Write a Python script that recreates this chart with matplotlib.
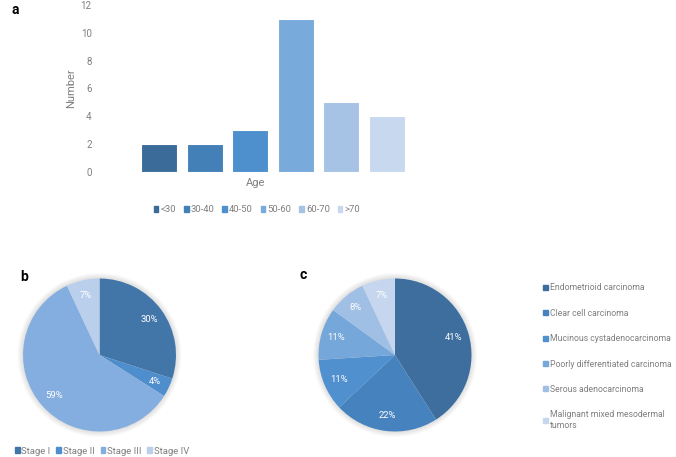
import matplotlib
matplotlib.use("Agg")
import matplotlib.pyplot as plt
from matplotlib.patches import Circle, Patch

plt.rcParams['font.family'] = ['Roboto', 'DejaVu Sans']

age_groups = ["<30", "30-40", "40-50", "50-60", "60-70", ">70"]
age_counts = [2, 2, 3, 11, 5, 4]
age_colors = ["#3b6b98", "#4480b8", "#4e8fcd", "#78aadc", "#a6c3e6", "#c7d8ef"]

stages = ["Stage I", "Stage II", "Stage III", "Stage IV"]
stage_pct = [30, 4, 59, 7]
stage_colors = ["#4376a8", "#4f8ecc", "#85aee0", "#bacfec"]

types = ["Endometrioid carcinoma", "Clear cell carcinoma", "Mucinous cystadenocarcinoma",
         "Poorly differentiated carcinoma", "Serous adenocarcinoma",
         "Malignant mixed mesodermal\ntumors"]
type_pct = [41, 22, 11, 11, 8, 7]
type_colors = ["#3d6e9d", "#4682bd", "#5090cf", "#76a7da", "#a0bfe5", "#c5d6ee"]

W, H = 676, 457
fig = plt.figure(figsize=(W/100, H/100), dpi=100)
gray = "#595959"
tgray = "#7f7f7f"

def px(x0, y0, x1, y1):
    return [x0/W, 1 - y1/H, (x1-x0)/W, (y1-y0)/H]

# Panel a
ax = fig.add_axes(px(100, 5, 412, 172))
x = range(len(age_groups))
ax.bar(x, age_counts, width=0.79, color=age_colors, edgecolor="white", linewidth=0.8)
ax.set_ylim(0, 12)
ax.set_yticks(range(0, 13, 2))
ax.set_xlim(-1.294, 5.548)
ax.set_xticks([])
for s in ax.spines.values():
    s.set_visible(False)
ax.tick_params(axis='y', length=0, labelsize=7, labelcolor=tgray, pad=6)
ax.set_ylabel("Number", fontsize=8, color=tgray, labelpad=3)
ax.set_xlabel("Age", fontsize=8, color=tgray, labelpad=4)
handles = [Patch(color=c, label=l) for c, l in zip(age_colors, age_groups)]
fig.legend(handles=handles, loc="center", bbox_to_anchor=(257/W, 1-210/H), ncol=6,
           frameon=False, fontsize=6.8, labelcolor=tgray, handlelength=0.5, handleheight=0.5,
           handletextpad=0.25, columnspacing=0.8)
fig.text(12/W, 1-10/H, "a", fontsize=10, fontweight="bold", va="center")

def draw_pie(cx, cy, r, vals, cols):
    a = fig.add_axes(px(cx-r*1.1, cy-r*1.1, cx+r*1.1, cy+r*1.1))
    for i in range(6):
        a.add_patch(Circle((0, 0.0), 1.0 + 0.012*(i+1), color="black", alpha=0.02, lw=0, zorder=0))
    wedges, texts, autotexts = a.pie(vals, colors=cols, startangle=90, counterclock=False,
                                     autopct=lambda p: f"{p:.0f}%", pctdistance=0.8,
                                     wedgeprops=dict(linewidth=0), radius=1.0,
                                     textprops=dict(color="white", fontsize=6.8))
    for w in wedges:
        w.set_zorder(2)
    for t in autotexts:
        t.set_zorder(3)
    a.set_xlim(-1.1, 1.1)
    a.set_ylim(-1.1, 1.1)
    a.set_aspect("equal")
    a.axis("off")
    return a

draw_pie(99.5, 355, 76.5, stage_pct, stage_colors)
draw_pie(395, 355, 76.5, type_pct, type_colors)

fig.text(20/W, 1-277/H, "b", fontsize=10, fontweight="bold", va="center")
fig.text(300/W, 1-275/H, "c", fontsize=10, fontweight="bold", va="center")

handles = [Patch(color=c, label=l) for c, l in zip(stage_colors, stages)]
fig.legend(handles=handles, loc="center", bbox_to_anchor=(102/W, 1-451/H), ncol=4,
           frameon=False, fontsize=6.8, labelcolor=tgray, handlelength=0.5, handleheight=0.5,
           handletextpad=0.2, columnspacing=0.6)

handles = [Patch(color=c, label=l) for c, l in zip(type_colors, types)]
fig.legend(handles=handles, loc="upper left", bbox_to_anchor=(540/W, 1-280/H), ncol=1,
           frameon=False, fontsize=6.2, labelcolor=tgray, handlelength=0.5, handleheight=0.5,
           handletextpad=0.25, labelspacing=1.9, borderaxespad=0)

fig.savefig("out.png", dpi=100, facecolor="white")
